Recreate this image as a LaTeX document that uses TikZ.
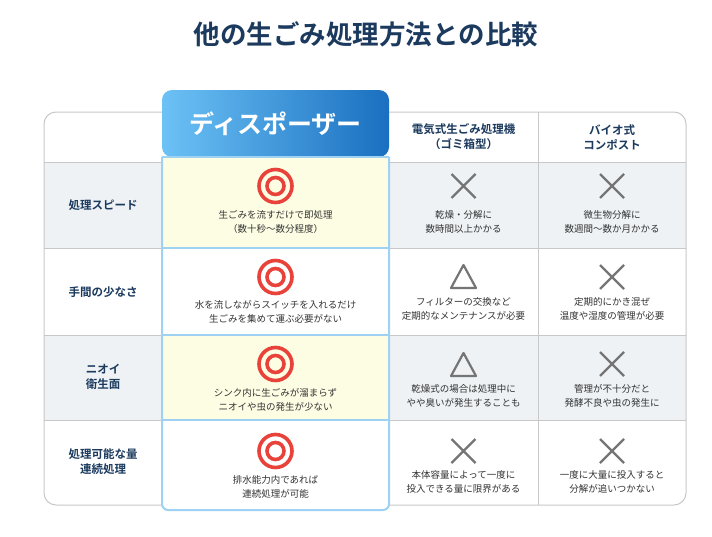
\documentclass[tikz,border=0pt]{standalone}
\usepackage{fontspec}
\setmainfont{Noto Sans CJK JP}
\newfontfamily\jpb{Noto Sans CJK JP Bold}
\definecolor{navy}{HTML}{1B3A5E}
\definecolor{rowg}{HTML}{EEF2F5}
\definecolor{yel}{HTML}{FDFDE4}
\definecolor{lb}{HTML}{9FD2F2}
\definecolor{gridc}{HTML}{C8C8C8}
\definecolor{redc}{HTML}{E8423A}
\definecolor{grayc}{HTML}{757575}
\definecolor{txt}{HTML}{333333}
\definecolor{gA}{HTML}{6CC2F5}
\definecolor{gB}{HTML}{1A6FC0}
\begin{document}
\begin{tikzpicture}[x=1pt,y=-1pt,
  lbl/.style={font=\jpb\fontsize{11.5}{15}\selectfont,text=navy,align=center},
  hdr/.style={font=\jpb\fontsize{11.5}{15}\selectfont,text=navy,align=center},
  desc/.style={font=\fontsize{9.5}{13.5}\selectfont,text=txt,align=center},
  dbl/.style={draw=redc,line width=3.6pt},
  crs/.style={draw=grayc,line width=2.4pt},
  tri/.style={draw=grayc,line width=2.2pt,line join=round}]
\useasboundingbox (0,0) rectangle (712,536);
\fill[white] (0,0) rectangle (712,536);
\node[font=\jpb\fontsize{26.5}{30}\selectfont,text=navy] (title) at (366,34) {他の生ごみ処理方法との比較};
% row backgrounds
\fill[rowg] (44,162) rectangle (686,248);
\fill[rowg] (44,335) rectangle (686,420);
% outer frame
\draw[gridc,line width=1pt,rounded corners=12pt] (44,505) -- (44,112) -- (686,112) -- (686,505) -- cycle;
\foreach \y in {162,248,335,420} \draw[gridc,line width=1pt] (44,\y) -- (686,\y);
\draw[gridc,line width=1pt] (538,112) -- (538,505);
% disposer column
\fill[yel] (162,157) rectangle (389,248);
\fill[white] (162,248) rectangle (389,335);
\fill[yel] (162,335) rectangle (389,420);
\fill[white] (162,420) rectangle (389,510);
\shade[left color=gA,right color=gB,rounded corners=10pt] (162,157) -- (162,90) -- (389,90) -- (389,157) -- cycle;
\draw[lb,line width=2pt,rounded corners=6pt] (162,157) -- (162,510) -- (389,510) -- (389,157);
\foreach \y in {157,248,335,420} \draw[lb,line width=2pt] (162,\y) -- (389,\y);
\node[font=\jpb\fontsize{25}{30}\selectfont,text=white] (dhead) at (275.5,124) {ディスポーザー};
% headers
\node[hdr] (h2) at (463.5,137) {電気式生ごみ処理機\\（ゴミ箱型）};
\node[hdr] (h3) at (612,137) {バイオ式\\コンポスト};
% row labels
\node[lbl] (l1) at (103,205) {処理スピード};
\node[lbl] (l2) at (103,292) {手間の少なさ};
\node[lbl] (l3) at (103,377) {ニオイ\\衛生面};
\node[lbl] (l4) at (103,462) {処理可能な量\\連続処理};
% symbols
\foreach \y in {186,277,364,451}{
  \draw[dbl] (275.5,\y) circle (16.5);
  \draw[dbl] (275.5,\y) circle (8.5);}
\newcommand{\crossat}[2]{\draw[crs] (#1-12,#2-12) -- (#1+12,#2+12) (#1-12,#2+12) -- (#1+12,#2-12);}
\crossat{463.5}{186}\crossat{612}{186}
\crossat{612}{277}\crossat{612}{364}
\crossat{463.5}{451}\crossat{612}{451}
\draw[tri] (463.5,265) -- (476,288) -- (451,288) -- cycle;
\draw[tri] (463.5,353) -- (476,376) -- (451,376) -- cycle;
% descriptions
\node[desc] (d11) at (275.5,222) {生ごみを流すだけで即処理\\（数十秒〜数分程度）};
\node[desc] (d12) at (463.5,222) {乾燥・分解に\\数時間以上かかる};
\node[desc] (d13) at (612,222) {微生物分解に\\数週間〜数か月かかる};
\node[desc] (d21) at (275.5,312) {水を流しながらスイッチを入れるだけ\\生ごみを集めて運ぶ必要がない};
\node[desc] (d22) at (463.5,309) {フィルターの交換など\\定期的なメンテナンスが必要};
\node[desc] (d23) at (612,309) {定期的にかき混ぜ\\温度や湿度の管理が必要};
\node[desc] (d31) at (275.5,400) {シンク内に生ごみが溜まらず\\ニオイや虫の発生が少ない};
\node[desc] (d32) at (463.5,396) {乾燥式の場合は処理中に\\やや臭いが発生することも};
\node[desc] (d33) at (612,396) {管理が不十分だと\\発酵不良や虫の発生に};
\node[desc] (d41) at (275.5,487) {排水能力内であれば\\連続処理が可能};
\node[desc] (d42) at (463.5,482) {本体容量によって一度に\\投入できる量に限界がある};
\node[desc] (d43) at (612,482) {一度に大量に投入すると\\分解が追いつかない};
\end{tikzpicture}
\end{document}
